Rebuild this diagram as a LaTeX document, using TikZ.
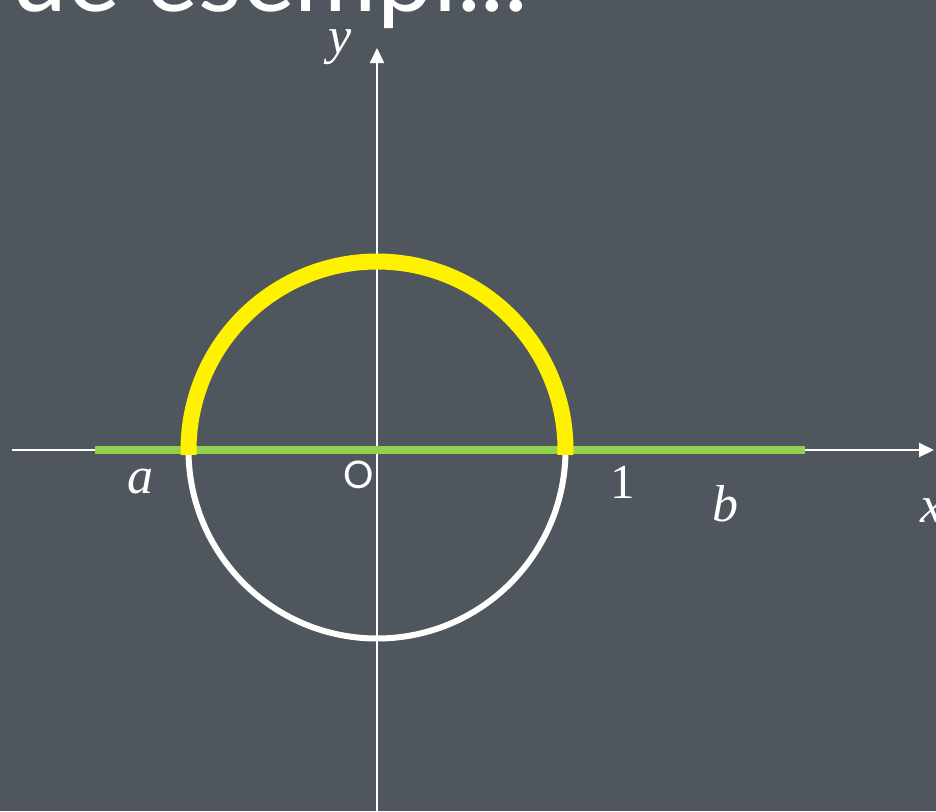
\documentclass[tikz,border=0pt]{standalone}
\usepackage{fontspec}
\setmainfont{Liberation Serif}
\newfontfamily\titlefont{Lato}
\usetikzlibrary{arrows.meta}
\definecolor{board}{RGB}{80,86,94}
\definecolor{officegreen}{RGB}{146,208,80}
\begin{document}
\begin{tikzpicture}[x=1pt,y=-1pt,
  axis/.style={white,line width=2pt,-{Triangle[length=15pt,width=14pt]}},
  lbl/.style={white,font=\fontsize{52}{52}\selectfont\itshape,inner sep=0pt,anchor=base},
  bigtitle/.style={white,font=\titlefont\fontsize{100}{100}\selectfont,inner sep=0pt}]
\fill[board] (0,0) rectangle (936,811);
\useasboundingbox (0,0) rectangle (936,811);
\coordinate (O) at (377,450);
\coordinate (xs) at (12,450);
\coordinate (xe) at (934,450);
\coordinate (ys) at (377,811);
\coordinate (ye) at (377,48);
\coordinate (ga) at (95,450);
\coordinate (gb) at (805,450);
\draw[axis] (xs) -- (xe);
\draw[axis] (ys) -- (ye);
\draw[white,line width=6pt] (O) ++(0:188.5) arc[start angle=0,end angle=180,radius=188.5];
\draw[officegreen,line width=8pt] (ga) -- (gb);
\draw[yellow,line width=16pt] (O) ++(1.5:188.5) arc[start angle=1.5,end angle=-181.5,radius=188.5];
\node[bigtitle,anchor=base east] (title) at (528,11) {Due esempi...};
\node[lbl] (ylab) at (340,53) {y};
\node[lbl] (alab) at (140,493) {a};
\node[white,font=\titlefont\fontsize{38}{38}\selectfont,inner sep=0pt,anchor=base] (olab) at (359,488) {O};
\node[lbl,font=\fontsize{49}{49}\selectfont] (one) at (623,498) {1};
\node[lbl] (blab) at (725,521) {b};
\node[lbl,anchor=base west] (xlab) at (920,522) {x};
\end{tikzpicture}
\end{document}
